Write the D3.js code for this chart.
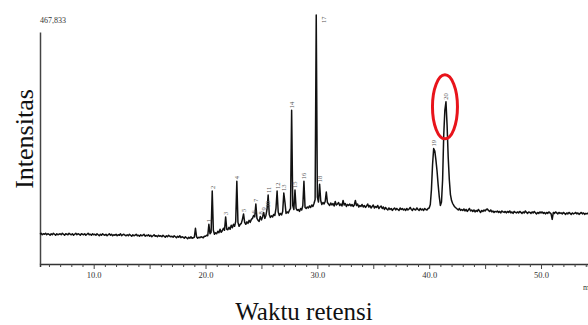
<!DOCTYPE html>
<html>
<head>
<meta charset="utf-8">
<script src="https://cdn.jsdelivr.net/npm/d3@7"></script>
<style>
  body { margin: 0; background: #fff; }
  svg { display: block; }
</style>
</head>
<body>
<svg id="chart" width="588" height="325"></svg>
<script>
// sampling grid of the detector trace (retention time, min)
const startTime = 5.2;
const sampleStep = 0.1;

// detector signal in thousands of counts, one row per minute
const signal = [
  /* 5 */  60,62,59,61,60,62,59,61,
  /* 6 */  60,58,61,59,62,60,58,61,59,60,
  /* 7 */  61,59,62,60,58,61,60,59,62,60,
  /* 8 */  59,61,58,60,62,59,61,60,58,61,
  /* 9 */  60,59,61,58,60,62,59,60,58,61,
  /* 10 */ 59,60,58,61,59,57,60,58,61,59,
  /* 11 */ 58,60,57,59,61,58,60,57,59,58,
  /* 12 */ 60,57,59,58,61,57,59,60,58,57,
  /* 13 */ 59,57,60,58,56,59,57,58,60,57,
  /* 14 */ 58,56,59,57,58,60,56,58,57,59,
  /* 15 */ 56,58,55,57,59,56,57,55,58,56,
  /* 16 */ 57,55,58,56,54,57,55,58,56,55,
  /* 17 */ 56,54,57,55,53,56,54,57,53,55,
  /* 18 */ 54,52,55,53,51,54,52,55,52,53,
  /* 19 */ 54,72,55,52,54,53,55,54,53,56,
  /* 20 */ 56,58,57,80,61,64,147,68,60,63,
  /* 21 */ 61,66,63,70,64,67,72,68,95,70,
  /* 22 */ 69,74,70,78,73,80,76,86,167,84,
  /* 23 */ 76,80,82,90,101,84,80,85,82,88,
  /* 24 */ 84,90,92,98,95,121,92,88,86,96,
  /* 25 */ 89,95,104,92,98,110,139,100,94,97,
  /* 26 */ 95,100,98,112,147,105,98,102,99,106,
  /* 27 */ 143,125,102,105,103,108,112,310,118,110,
  /* 28 */ 149,112,108,110,106,112,109,118,167,114,
  /* 29 */ 112,115,113,117,114,119,116,122,130,502,
  /* 30 */ 135,125,161,128,120,124,121,126,145,124,
  /* 31 */ 121,118,123,119,122,117,126,119,121,124,
  /* 32 */ 118,121,117,128,119,122,116,120,118,121,
  /* 33 */ 117,120,116,119,128,118,121,115,118,116,
  /* 34 */ 120,115,118,114,117,121,115,118,113,116,
  /* 35 */ 119,113,116,114,118,112,115,117,112,115,
  /* 36 */ 110,114,111,109,113,110,112,108,111,113,
  /* 37 */ 109,112,110,108,113,110,112,109,111,108,
  /* 38 */ 112,109,111,114,110,108,112,110,109,113,
  /* 39 */ 110,108,112,109,111,108,112,110,109,112,
  /* 40 */ 113,120,150,200,233,228,210,188,160,136,
  /* 41 */ 118,125,170,260,310,327,280,215,170,140,
  /* 42 */ 128,122,118,115,113,111,109,112,108,110,
  /* 43 */ 108,111,107,110,106,109,112,107,109,106,
  /* 44 */ 109,105,108,106,110,107,104,108,106,109,
  /* 45 */ 107,110,111,108,106,109,105,107,104,106,
  /* 46 */ 105,107,104,106,103,107,105,104,106,103,
  /* 47 */ 106,104,107,103,105,102,106,104,103,105,
  /* 48 */ 103,106,104,102,105,103,107,104,102,105,
  /* 49 */ 104,102,105,103,106,103,101,104,102,105,
  /* 50 */ 103,105,102,104,101,104,102,105,103,101,
  /* 51 */ 90,104,102,105,103,101,104,102,103,101,
  /* 52 */ 104,102,100,103,101,104,102,100,103,101,
  /* 53 */ 102,104,101,103,100,102,104,101,103,100,
  /* 54 */ 102,101,103
];

// numbered peaks: label, retention time (min)
const peaks = [
  ["1", 20.3], ["2", 20.6], ["3", 21.8], ["4", 22.8], ["5", 23.4],
  ["6", 24.3], ["7", 24.5], ["8", 24.9], ["9", 25.2], ["10", 25.5],
  ["11", 25.6], ["12", 26.4], ["13", 27.0], ["14", 27.7], ["15", 28.0],
  ["16", 28.8], ["17", 29.9], ["18", 30.2], ["19", 40.4], ["20", 41.5]
];
const highlighted = "20";

const timeTicks = d3.range(6, 55);
const maxIntensity = 467833;

const svg = d3.select("#chart");
const serif = "'Liberation Serif', 'Times New Roman', serif";

const x = d3.scaleLinear().domain([5.2, 54.2]).range([40, 588]);
const y = d3.scaleLinear().domain([0, maxIntensity]).range([264, 32]);

const timeAt = (i) => startTime + i * sampleStep;
const indexOf = (t) => Math.round((t - startTime) / sampleStep);

// axes ---------------
const xAxis = svg.append("g")
  .attr("transform", `translate(0,${y(0)})`)
  .call(d3.axisBottom(x)
    .tickValues(timeTicks)
    .tickSizeOuter(0)
    .tickSize(3)
    .tickFormat((d) => (d % 10 === 0 ? d.toFixed(1) : "")));

xAxis.select(".domain").attr("stroke", "#333").attr("stroke-width", 1.5);
xAxis.selectAll(".tick line")
  .attr("stroke", "#444")
  .attr("y2", (d) => (d % 5 === 0 ? 5 : 3));
xAxis.selectAll(".tick text")
  .attr("font-family", serif)
  .attr("font-size", 8.5)
  .attr("fill", "#333")
  .attr("y", 8);

const yAxis = svg.append("g")
  .attr("transform", `translate(${x(5.2)},0)`)
  .call(d3.axisLeft(y).tickValues([]).tickSizeOuter(0));
yAxis.select(".domain").attr("stroke", "#444").attr("stroke-width", 1.5);

svg.append("text")
  .attr("x", x(5.2))
  .attr("y", 23)
  .attr("font-family", serif)
  .attr("font-size", 8)
  .attr("fill", "#333")
  .text(d3.format(",")(maxIntensity));

svg.append("text")
  .attr("x", 583)
  .attr("y", 290)
  .attr("font-family", serif)
  .attr("font-size", 8)
  .attr("fill", "#333")
  .text("min");

// trace ---------------
const line = d3.line()
  .x((d, i) => x(timeAt(i)))
  .y((d) => y(d * 1000));

svg.append("path")
  .datum(signal)
  .attr("fill", "none")
  .attr("stroke", "#111")
  .attr("stroke-width", 1.5)
  .attr("stroke-linejoin", "round")
  .attr("d", line);

// peak numbers ---------------
const labels = svg.append("g")
  .attr("font-family", serif)
  .attr("font-size", 6.5)
  .attr("fill", "#555");

peaks.forEach(([name, t]) => {
  const top = y(signal[indexOf(t)] * 1000);
  let px = x(t) + 2.5;
  let py = top - 2;
  if (top < y(maxIntensity)) {
    // peak leaves the frame: put its number beside the line
    px += 7;
    py = top + 8;
  }
  labels.append("text")
    .attr("transform", `translate(${px},${py}) rotate(-90)`)
    .text(name);
});

// highlight ---------------
const hl = peaks.find((p) => p[0] === highlighted);
svg.append("ellipse")
  .attr("cx", x(hl[1]) - 1)
  .attr("cy", y(signal[indexOf(hl[1])] * 1000) + 5)
  .attr("rx", 12.5)
  .attr("ry", 32)
  .attr("fill", "none")
  .attr("stroke", "#e8141b")
  .attr("stroke-width", 3);

// axis titles ---------------
svg.append("text")
  .attr("transform", `translate(33,139) rotate(-90)`)
  .attr("text-anchor", "middle")
  .attr("font-family", serif)
  .attr("font-size", 26)
  .attr("fill", "#111")
  .text("Intensitas");

svg.append("text")
  .attr("x", 304)
  .attr("y", 320)
  .attr("text-anchor", "middle")
  .attr("font-family", serif)
  .attr("font-size", 25)
  .attr("fill", "#111")
  .text("Waktu retensi");
</script>
</body>
</html>
